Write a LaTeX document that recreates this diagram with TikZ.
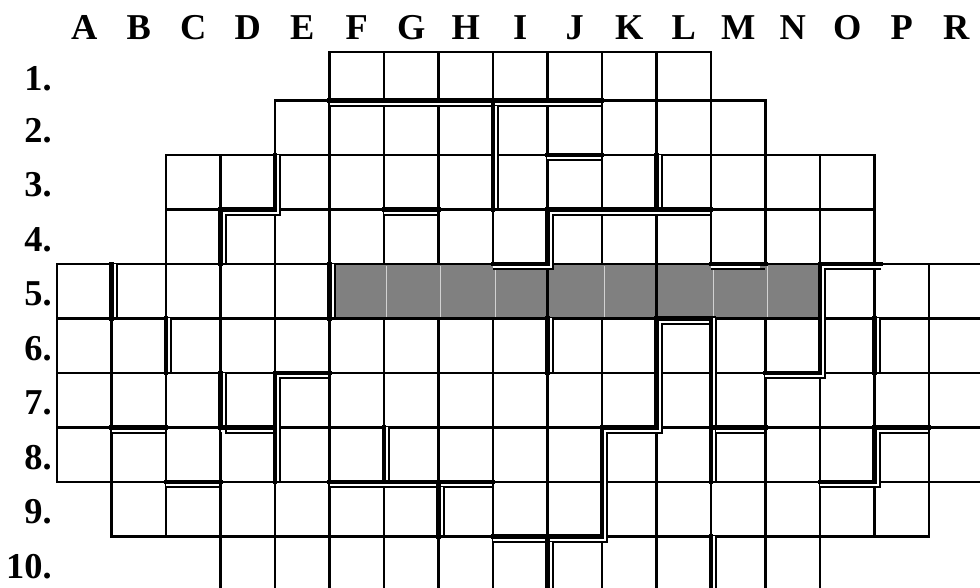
\documentclass[tikz,border=0pt]{standalone}
\usepackage{fontspec}
\setmainfont{Liberation Serif}
\definecolor{shadegray}{HTML}{808080}
\tikzset{
  cell/.style={line width=1.1pt},
  thickline/.style={line width=2.1pt,line cap=rect},
  thinline/.style={line width=1pt},
  gapline/.style={white,line width=2pt,shorten <=0.05cm,shorten >=0.05cm},
  lbl/.style={font=\fontsize{19}{22}\selectfont\bfseries,inner sep=0pt},
}
% 双线边界：#1 粗线，#2 细线
\newcommand{\dbl}[2]{%
  \draw[gapline,shift={(-0.05,0.05)}] #2;
  \draw[thinline] #2;
  \draw[thickline] #1;
}

\begin{document}
\begin{tikzpicture}
\useasboundingbox (-1.046,-8.945) rectangle (16.936,1.844);
% ---- 列标 A--R ----
\foreach \t [count=\i from 0] in {A,B,C,D,E,F,G,H,I,J,K,L,M,N,O,P,R}
  \node[lbl,anchor=base] (col\t) at (\i+0.5,1.128) {\t};
% ---- 行标 1.--10. ----
\foreach \r in {1,...,10}{
  \ifnum\r=1 \def\ym{0.40}\else \pgfmathsetmacro\ym{1.45-\r}\fi
  \node[lbl,anchor=east] (row\r) at (-0.09,\ym) {\r.};
}
% ---- 方格：行号/起列/止列 ----
\foreach \r/\a/\b in {1/5/11,2/4/12,3/2/14,4/2/14,5/0/16,
                      6/0/16,7/0/16,8/0/16,9/1/15,10/3/13}{
  \ifnum\r=1 \def\yt{0.89}\else \pgfmathsetmacro\yt{2-\r}\fi
  \pgfmathsetmacro\yb{1-\r}
  \foreach \c in {\a,...,\b}
    \draw[cell] (\c,\yt) rectangle (\c+1,\yb);
}
% ---- 第 5 行灰色格 F--N ----
\fill[shadegray] (5.1,-3.025) rectangle (14,-3.975);
\foreach \c in {6,7,8,10,12,13}
  \draw[gray!35,line width=0.7pt] (\c+0.04,-3.03) -- (\c+0.04,-3.97);
\foreach \c in {9,11}
  \draw[cell] (\c,-3) -- (\c,-4);
% ---- 双线边界 ----
\dbl{(5,0)--(10,0)}{(5,-0.1)--(10,-0.1)}
\dbl{(4,-1)--(4,-2)--(3,-2)--(3,-3)}{(4.1,-1)--(4.1,-2.1)--(3.1,-2.1)--(3.1,-3)}
\dbl{(6,-2)--(7,-2)}{(6,-2.1)--(7,-2.1)}
\dbl{(1,-3)--(1,-4)}{(1.1,-3)--(1.1,-4)}
\dbl{(5,-3)--(5,-4)}{(5.1,-3)--(5.1,-4)}
\dbl{(8,0)--(8,-2)}{(8.1,-0.1)--(8.1,-2)}
\dbl{(9,-1)--(10,-1)}{(9,-1.1)--(10,-1.1)}
\dbl{(12,-2)--(9,-2)--(9,-3)--(8,-3)}{(12,-2.1)--(9.1,-2.1)--(9.1,-3.1)--(8,-3.1)}
\dbl{(11,-1)--(11,-2)}{(11.1,-1)--(11.1,-2)}
\dbl{(12,-3)--(13,-3)}{(12,-3.1)--(13,-3.1)}
\dbl{(15.12,-3)--(14,-3)--(14,-5)--(13,-5)}{(15.12,-3.1)--(14.1,-3.1)--(14.1,-5.1)--(13,-5.1)}
\dbl{(2,-4)--(2,-5)}{(2.1,-4)--(2.1,-5)}
\dbl{(3,-5)--(3,-6)--(4,-6)}{(3.1,-5)--(3.1,-6.1)--(4,-6.1)}
\dbl{(5,-5)--(4,-5)--(4,-7)}{(5,-5.1)--(4.1,-5.1)--(4.1,-7)}
\dbl{(1,-6)--(2,-6)}{(1,-6.1)--(2,-6.1)}
\dbl{(6,-6)--(6,-7)}{(6.1,-6)--(6.1,-7)}
\dbl{(5,-7)--(8,-7)}{(5,-7.1)--(8,-7.1)}
\dbl{(7,-7)--(7,-8)}{(7.1,-7.1)--(7.1,-8)}
\dbl{(2,-7)--(3,-7)}{(2,-7.1)--(3,-7.1)}
\dbl{(9,-4)--(9,-5)}{(9.1,-4)--(9.1,-5)}
\dbl{(12.05,-4)--(11,-4)--(11,-6)--(10,-6)--(10,-8)--(8,-8)}{(12,-4.1)--(11.1,-4.1)--(11.1,-6.1)--(10.1,-6.1)--(10.1,-8.1)--(8,-8.1)}
\dbl{(9,-8)--(9,-9.2)}{(9.1,-8.1)--(9.1,-9.2)}
\dbl{(12,-4)--(12,-7)}{(12.1,-4)--(12.1,-7)}
\dbl{(12,-6)--(13,-6)}{(12.1,-6.1)--(13,-6.1)}
\dbl{(12,-8)--(12,-9.2)}{(12.1,-8)--(12.1,-9.2)}
\dbl{(15,-4)--(15,-5)}{(15.1,-4)--(15.1,-5)}
\dbl{(16,-6)--(15,-6)--(15,-7)--(14,-7)}{(16,-6.1)--(15.1,-6.1)--(15.1,-7.1)--(14,-7.1)}
\end{tikzpicture}
\end{document}
